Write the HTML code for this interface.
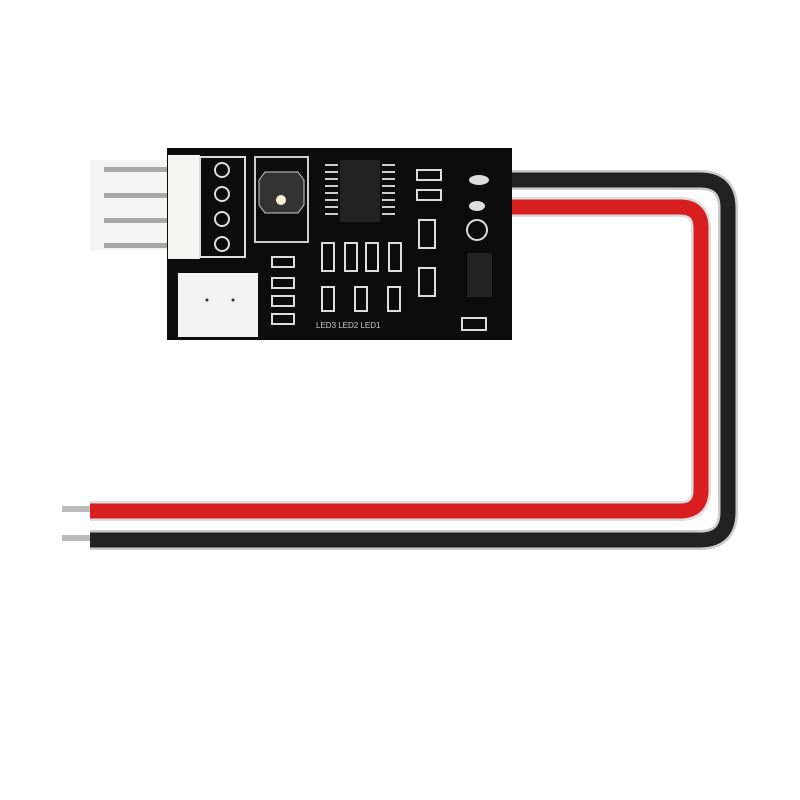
<!DOCTYPE html>
<html><head><style>html,body{margin:0;padding:0;background:#fff;width:800px;height:800px;overflow:hidden}</style></head>
<body>
<svg width="800" height="800" viewBox="0 0 800 800" xmlns="http://www.w3.org/2000/svg">
<rect width="800" height="800" fill="#fff"/>
<rect x="62" y="506" width="30" height="6" fill="#bbb"/>
<rect x="62" y="535" width="30" height="6" fill="#bbb"/>
<path d="M500 180 H700 Q728 180 728 208 V512 Q728 540 700 540 H90" fill="none" stroke="#ccc" stroke-width="20"/>
<path d="M500 180 H700 Q728 180 728 208 V512 Q728 540 700 540 H90" fill="none" stroke="#222" stroke-width="15"/>
<path d="M500 207 H680 Q701 207 701 228 V490 Q701 511 680 511 H90" fill="none" stroke="#ddd" stroke-width="20"/>
<path d="M500 207 H680 Q701 207 701 228 V490 Q701 511 680 511 H90" fill="none" stroke="#d81e1e" stroke-width="15"/>
<rect x="90" y="160" width="80" height="90" fill="#f4f4f4"/>
<g fill="#a8a8a8"><rect x="104" y="167" width="66" height="5"/><rect x="104" y="193" width="66" height="5"/><rect x="104" y="218" width="66" height="5"/><rect x="104" y="243" width="66" height="5"/></g>
<rect x="167" y="148" width="345" height="192" fill="#0c0c0c"/>
<rect x="168" y="155" width="32" height="104" fill="#f4f4f2"/>
<rect x="200" y="157" width="45" height="100" fill="none" stroke="#ddd" stroke-width="2"/>
<g fill="none" stroke="#ddd" stroke-width="2"><circle cx="222" cy="170" r="7"/><circle cx="222" cy="194" r="7"/><circle cx="222" cy="219" r="7"/><circle cx="222" cy="244" r="7"/></g>
<rect x="178" y="273" width="80" height="64" fill="#f2f2f2"/>
<circle cx="207" cy="300" r="1.5" fill="#333"/><circle cx="233" cy="300" r="1.5" fill="#333"/>
<rect x="255" y="157" width="53" height="85" fill="none" stroke="#ccc" stroke-width="2"/>
<polygon points="265,172 298,172 304,180 304,205 298,213 265,213 259,205 259,180" fill="#333" stroke="#ccc"/>
<circle cx="281" cy="200" r="5" fill="#f5f0d8"/>
<rect x="340" y="160" width="40" height="62" fill="#222"/>
<g stroke="#ccc" stroke-width="2">
<line x1="325" y1="165" x2="338" y2="165"/><line x1="325" y1="172" x2="338" y2="172"/><line x1="325" y1="179" x2="338" y2="179"/><line x1="325" y1="186" x2="338" y2="186"/><line x1="325" y1="193" x2="338" y2="193"/><line x1="325" y1="200" x2="338" y2="200"/><line x1="325" y1="207" x2="338" y2="207"/><line x1="325" y1="214" x2="338" y2="214"/>
<line x1="382" y1="165" x2="395" y2="165"/><line x1="382" y1="172" x2="395" y2="172"/><line x1="382" y1="179" x2="395" y2="179"/><line x1="382" y1="186" x2="395" y2="186"/><line x1="382" y1="193" x2="395" y2="193"/><line x1="382" y1="200" x2="395" y2="200"/><line x1="382" y1="207" x2="395" y2="207"/><line x1="382" y1="214" x2="395" y2="214"/>
</g>
<g fill="none" stroke="#ddd" stroke-width="2">
<rect x="322" y="243" width="12" height="28"/><rect x="345" y="243" width="12" height="28"/><rect x="366" y="243" width="12" height="28"/><rect x="389" y="243" width="12" height="28"/>
<rect x="322" y="287" width="12" height="24"/><rect x="355" y="287" width="12" height="24"/><rect x="388" y="287" width="12" height="24"/>
<rect x="272" y="257" width="22" height="10"/><rect x="272" y="278" width="22" height="10"/><rect x="272" y="296" width="22" height="10"/><rect x="272" y="314" width="22" height="10"/>
<rect x="417" y="170" width="24" height="10"/><rect x="417" y="190" width="24" height="10"/>
<rect x="419" y="220" width="16" height="28"/><rect x="419" y="268" width="16" height="28"/>
<rect x="462" y="318" width="24" height="12"/>
<circle cx="477" cy="230" r="10"/>
</g>
<ellipse cx="479" cy="180" rx="10" ry="5" fill="#ddd"/>
<ellipse cx="477" cy="206" rx="8" ry="5" fill="#ddd"/>
<rect x="467" y="253" width="25" height="44" fill="#222"/>
<text x="316" y="328" fill="#ccc" font-family="Liberation Sans" font-size="8">LED3 LED2 LED1</text>
</svg>
</body></html>
